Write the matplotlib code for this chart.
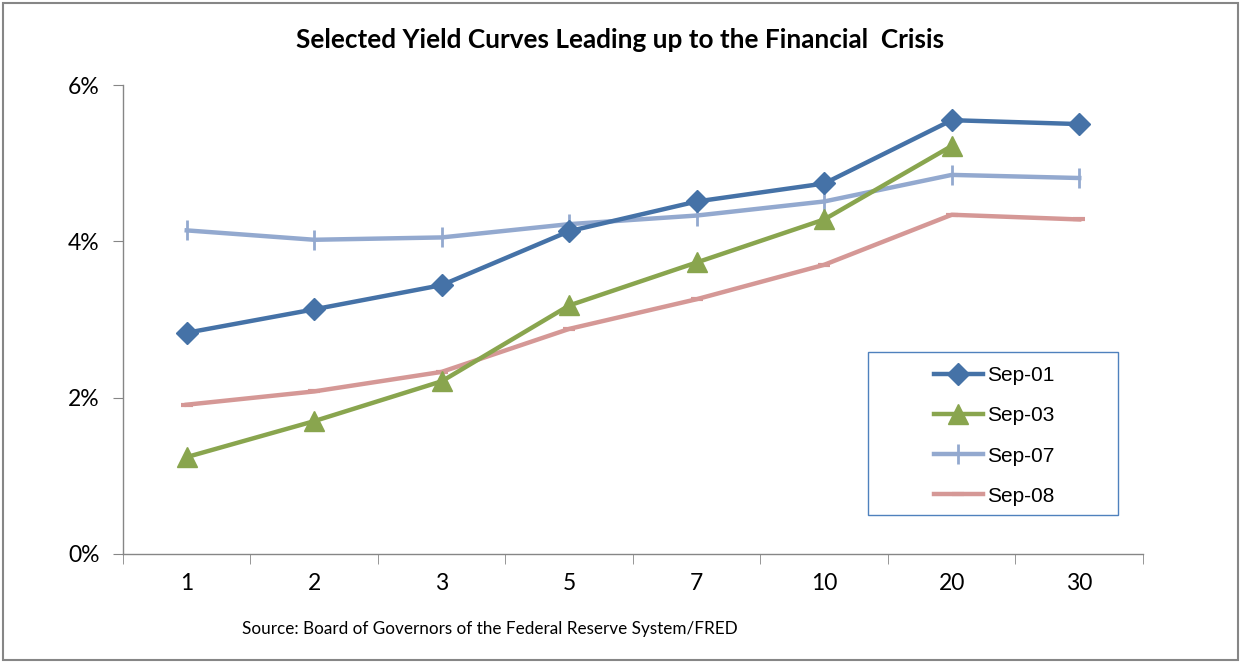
import matplotlib
matplotlib.use("Agg")
import matplotlib.pyplot as plt
from matplotlib.patches import Rectangle
import numpy as np

maturities = ["1", "2", "3", "5", "7", "10", "20", "30"]
sep01 = [2.83, 3.13, 3.44, 4.13, 4.51, 4.74, 5.55, 5.50]
sep03 = [1.24, 1.70, 2.21, 3.18, 3.73, 4.28, 5.22, np.nan]
sep07 = [4.14, 4.02, 4.05, 4.22, 4.33, 4.51, 4.85, 4.81]
sep08 = [1.91, 2.08, 2.33, 2.88, 3.26, 3.70, 4.34, 4.28]
yticks = [0, 2, 4, 6]

W, H = 1241, 663
fig = plt.figure(figsize=(W / 100, H / 100), dpi=100)
AX_L, AX_R, AX_T, AX_B = 123, 1143, 85, 554
ax = fig.add_axes([AX_L / W, 1 - AX_B / H, (AX_R - AX_L) / W, (AX_B - AX_T) / H])

x = np.arange(len(maturities))
ax.plot(x, sep01, color="#4572A7", lw=3.2, marker="D", ms=11, label="Sep-01", zorder=4)
ax.plot(x, sep03, color="#89A54E", lw=3.2, marker="^", ms=15, label="Sep-03", zorder=3)
ax.plot(x, sep07, color="#93A9CF", lw=3.2, marker="|", ms=14, mew=2, label="Sep-07", zorder=2)
ax.plot(x, sep08, color="#D59896", lw=3.2, marker="_", ms=8, mew=3, label="Sep-08", zorder=1)

ax.set_xlim(-0.5, len(maturities) - 0.5)
ax.set_ylim(0, 6)
ax.set_yticks(yticks)
ax.set_yticklabels([f"{v}%" for v in yticks])
ax.set_xticks(x)
ax.set_xticklabels(maturities)
ax.set_xticks(np.arange(-0.5, len(maturities)), minor=True)

for s in ["top", "right"]:
    ax.spines[s].set_visible(False)
for s in ["left", "bottom"]:
    ax.spines[s].set_color("#868686")
    ax.spines[s].set_linewidth(1)

ax.tick_params(axis="x", which="major", length=0, pad=14, labelsize=16.5, labelcolor="black")
ax.tick_params(axis="x", which="minor", length=7, color="#868686", direction="out")
ax.tick_params(axis="y", length=7, color="#868686", direction="out", pad=10, labelsize=16.5)
for lab in ax.get_xticklabels() + ax.get_yticklabels():
    lab.set_fontfamily("Lato")

def ax_frac(px, py):
    return ((px - AX_L) / (AX_R - AX_L), 1 - (py - AX_T) / (AX_B - AX_T))

leg = ax.legend(loc="upper left", bbox_to_anchor=ax_frac(934, 366),
                prop={"family": "Liberation Sans", "size": 15}, frameon=False,
                handlelength=2.35, labelspacing=1.02, borderpad=0, handletextpad=0.2,
                borderaxespad=0)

x0, y1 = ax_frac(868, 352)
x1, y0 = ax_frac(1118, 515)
ax.add_patch(Rectangle((x0, y0), x1 - x0, y1 - y0, transform=ax.transAxes, fill=False,
                       edgecolor="#4F81BD", lw=1, clip_on=False, zorder=5))

fig.text(620 / W, 1 - 40 / H, "Selected Yield Curves Leading up to the Financial  Crisis",
         ha="center", va="center", fontsize=18.8, fontweight="bold", family="Lato")
fig.text(242 / W, 1 - 629 / H, "Source: Board of Governors of the Federal Reserve System/FRED",
         ha="left", va="center", fontsize=12.3, family="Lato")

fig.patches.append(Rectangle((3 / W, 3 / H), (W - 6) / W, (H - 6) / H, transform=fig.transFigure,
                             fill=False, edgecolor="#868686", lw=1.5))

fig.savefig("out.png", dpi=100)
